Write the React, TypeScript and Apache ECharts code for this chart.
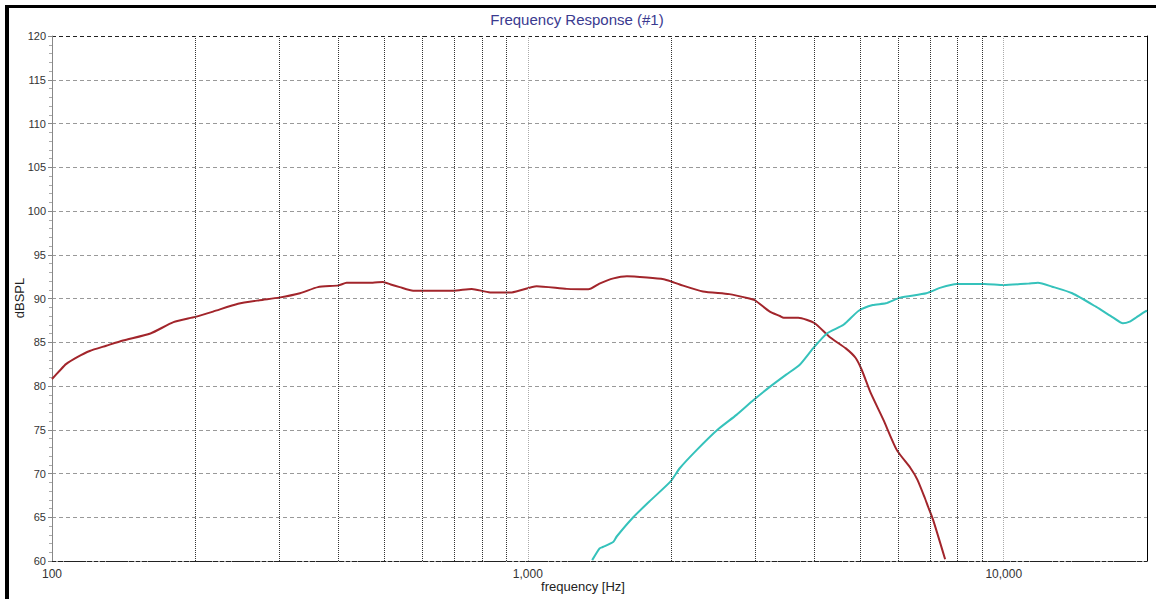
import React, { useEffect, useRef } from "react";
import * as echarts from "echarts";

const redFreq = [100, 104, 107, 113, 120, 130, 141, 161, 180, 200, 218, 246, 273, 300, 332, 362, 400, 416, 472, 496, 515, 538, 574, 697, 762, 833, 925, 1043, 1207, 1340, 1414, 1513, 1615, 1780, 1930, 2000, 2085, 2333, 2650, 2920, 3000, 3224, 3386, 3448, 3700, 4000, 4306, 4657, 4885, 5034, 5244, 5590, 5958, 6372, 6583, 6827, 6934, 7105, 7530];
const redDb = [80.8, 81.8, 82.5, 83.3, 84.0, 84.6, 85.2, 86.0, 87.3, 87.9, 88.5, 89.4, 89.8, 90.1, 90.6, 91.3, 91.5, 91.8, 91.8, 91.9, 91.6, 91.3, 90.9, 90.9, 91.1, 90.7, 90.7, 91.4, 91.1, 91.05, 91.7, 92.3, 92.55, 92.4, 92.2, 91.95, 91.6, 90.8, 90.5, 90.0, 89.8, 88.5, 88.0, 87.8, 87.8, 87.2, 85.6, 84.3, 83.2, 81.8, 79.3, 76.1, 72.7, 70.6, 69.3, 67.2, 66.2, 64.7, 60.2];

const cyanFreq = [1365, 1415, 1437, 1513, 1537, 1665, 1800, 1995, 2085, 2265, 2503, 2744, 2980, 3224, 3490, 3722, 3974, 4250, 4606, 4958, 5306, 5650, 6058, 6875, 7372, 7966, 9116, 10000, 11260, 11800, 12640, 13930, 15620, 16950, 17800, 18390, 19000, 19810, 20000];
const cyanDb = [60.1, 61.45, 61.6, 62.2, 62.8, 65.0, 66.8, 69.1, 70.6, 72.7, 75.0, 76.7, 78.4, 79.9, 81.3, 82.4, 84.3, 86.0, 87.0, 88.6, 89.26, 89.45, 90.1, 90.6, 91.24, 91.66, 91.66, 91.54, 91.7, 91.8, 91.35, 90.6, 89.06, 87.85, 87.16, 87.35, 87.85, 88.5, 88.6];

const minorFreqs = [200, 300, 400, 500, 600, 700, 800, 900, 2000, 3000, 4000, 5000, 6000, 7000, 8000, 9000];
const decadeFreqs = [1000, 10000];
const decadeLabels = [100, 1000, 10000];

const title = "Frequency Response (#1)";
const xName = "frequency [Hz]";
const yName = "dBSPL";

export default function App() {
  const ref = useRef<HTMLDivElement>(null);
  useEffect(() => {
    if (!ref.current) return;
    const chart = echarts.init(ref.current, undefined, { renderer: "svg" });
    const redData = redFreq.map((f, i) => [f, redDb[i]]);
    const cyanData = cyanFreq.map((f, i) => [f, cyanDb[i]]);
    const splitColors: string[] = [];
    for (let i = 0; i <= 12; i++) splitColors.push(i === 0 || i === 12 ? "#222" : "#999");
    chart.setOption({
      animation: false,
      backgroundColor: "#fff",
      grid: { left: 52, top: 36, right: 9, bottom: 38, containLabel: false },
      xAxis: {
        type: "log",
        logBase: 10,
        min: 100,
        max: 20000,
        axisLine: { show: true, lineStyle: { color: "#222", type: [4, 2], width: 1 } },
        axisTick: { show: false },
        splitLine: { show: false },
        minorTick: { show: false },
        axisLabel: {
          fontFamily: "Liberation Sans, Arial, sans-serif",
          fontSize: 12,
          color: "#333",
          margin: 7,
          showMaxLabel: false,
          formatter: (v: number) => {
            const r = Math.round(v);
            return decadeLabels.includes(r) ? r.toLocaleString("en-US") : "";
          },
        },
      },
      yAxis: [
        {
          type: "value",
          min: 60,
          max: 120,
          interval: 5,
          axisLine: { show: true, lineStyle: { color: "#888", width: 1 } },
          axisTick: { show: true, length: 4, lineStyle: { color: "#888" } },
          minorTick: { show: true, splitNumber: 5, length: 3, lineStyle: { color: "#aaa" } },
          splitLine: { show: true, lineStyle: { color: splitColors, type: [4, 3], width: 1 } },
          axisLabel: {
            fontFamily: "Liberation Sans, Arial, sans-serif",
            fontSize: 11,
            color: "#333",
            margin: 6,
          },
        },
        {
          type: "value",
          min: 60,
          max: 120,
          position: "right",
          axisLine: { show: true, lineStyle: { color: "#000", width: 1 } },
          axisTick: { show: false },
          axisLabel: { show: false },
          splitLine: { show: false },
        },
      ],
      series: [
        {
          type: "line",
          data: [],
          silent: true,
          markLine: {
            silent: true,
            symbol: "none",
            label: { show: false },
            data: [
              ...minorFreqs.map((f) => ({ xAxis: f, lineStyle: { color: "#333", type: [1, 1], width: 1 } })),
              ...decadeFreqs.map((f) => ({ xAxis: f, lineStyle: { color: "#aaa", type: [1, 1], width: 1 } })),
            ],
          },
        },
        {
          type: "line",
          data: redData,
          showSymbol: false,
          smooth: 0.2,
          lineStyle: { color: "#a2252b", width: 2 },
          itemStyle: { color: "#a2252b" },
        },
        {
          type: "line",
          data: cyanData,
          showSymbol: false,
          smooth: 0.2,
          lineStyle: { color: "#35c2bb", width: 2 },
          itemStyle: { color: "#35c2bb" },
        },
      ],
      graphic: [
        { type: "rect", shape: { x: 5, y: 5, width: 4, height: 594 }, style: { fill: "#000" } },
        { type: "rect", shape: { x: 5, y: 5, width: 1151, height: 3 }, style: { fill: "#000" } },
        {
          type: "text",
          x: 577,
          y: 19,
          style: {
            text: title,
            fill: "#3a3a90",
            font: "15px 'Liberation Sans', Arial, sans-serif",
            textAlign: "center",
            textVerticalAlign: "middle",
          },
        },
        {
          type: "text",
          x: 583,
          y: 586,
          style: {
            text: xName,
            fill: "#222",
            font: "13px 'Liberation Sans', Arial, sans-serif",
            textAlign: "center",
            textVerticalAlign: "middle",
          },
        },
        {
          type: "text",
          x: 19,
          y: 298,
          rotation: Math.PI / 2,
          style: {
            text: yName,
            fill: "#222",
            font: "13px 'Liberation Sans', Arial, sans-serif",
            textAlign: "center",
            textVerticalAlign: "middle",
          },
        },
      ],
    });
    return () => chart.dispose();
  }, []);
  return <div ref={ref} style={{ position: "fixed", left: 0, top: 0, width: 1156, height: 599 }} />;
}
